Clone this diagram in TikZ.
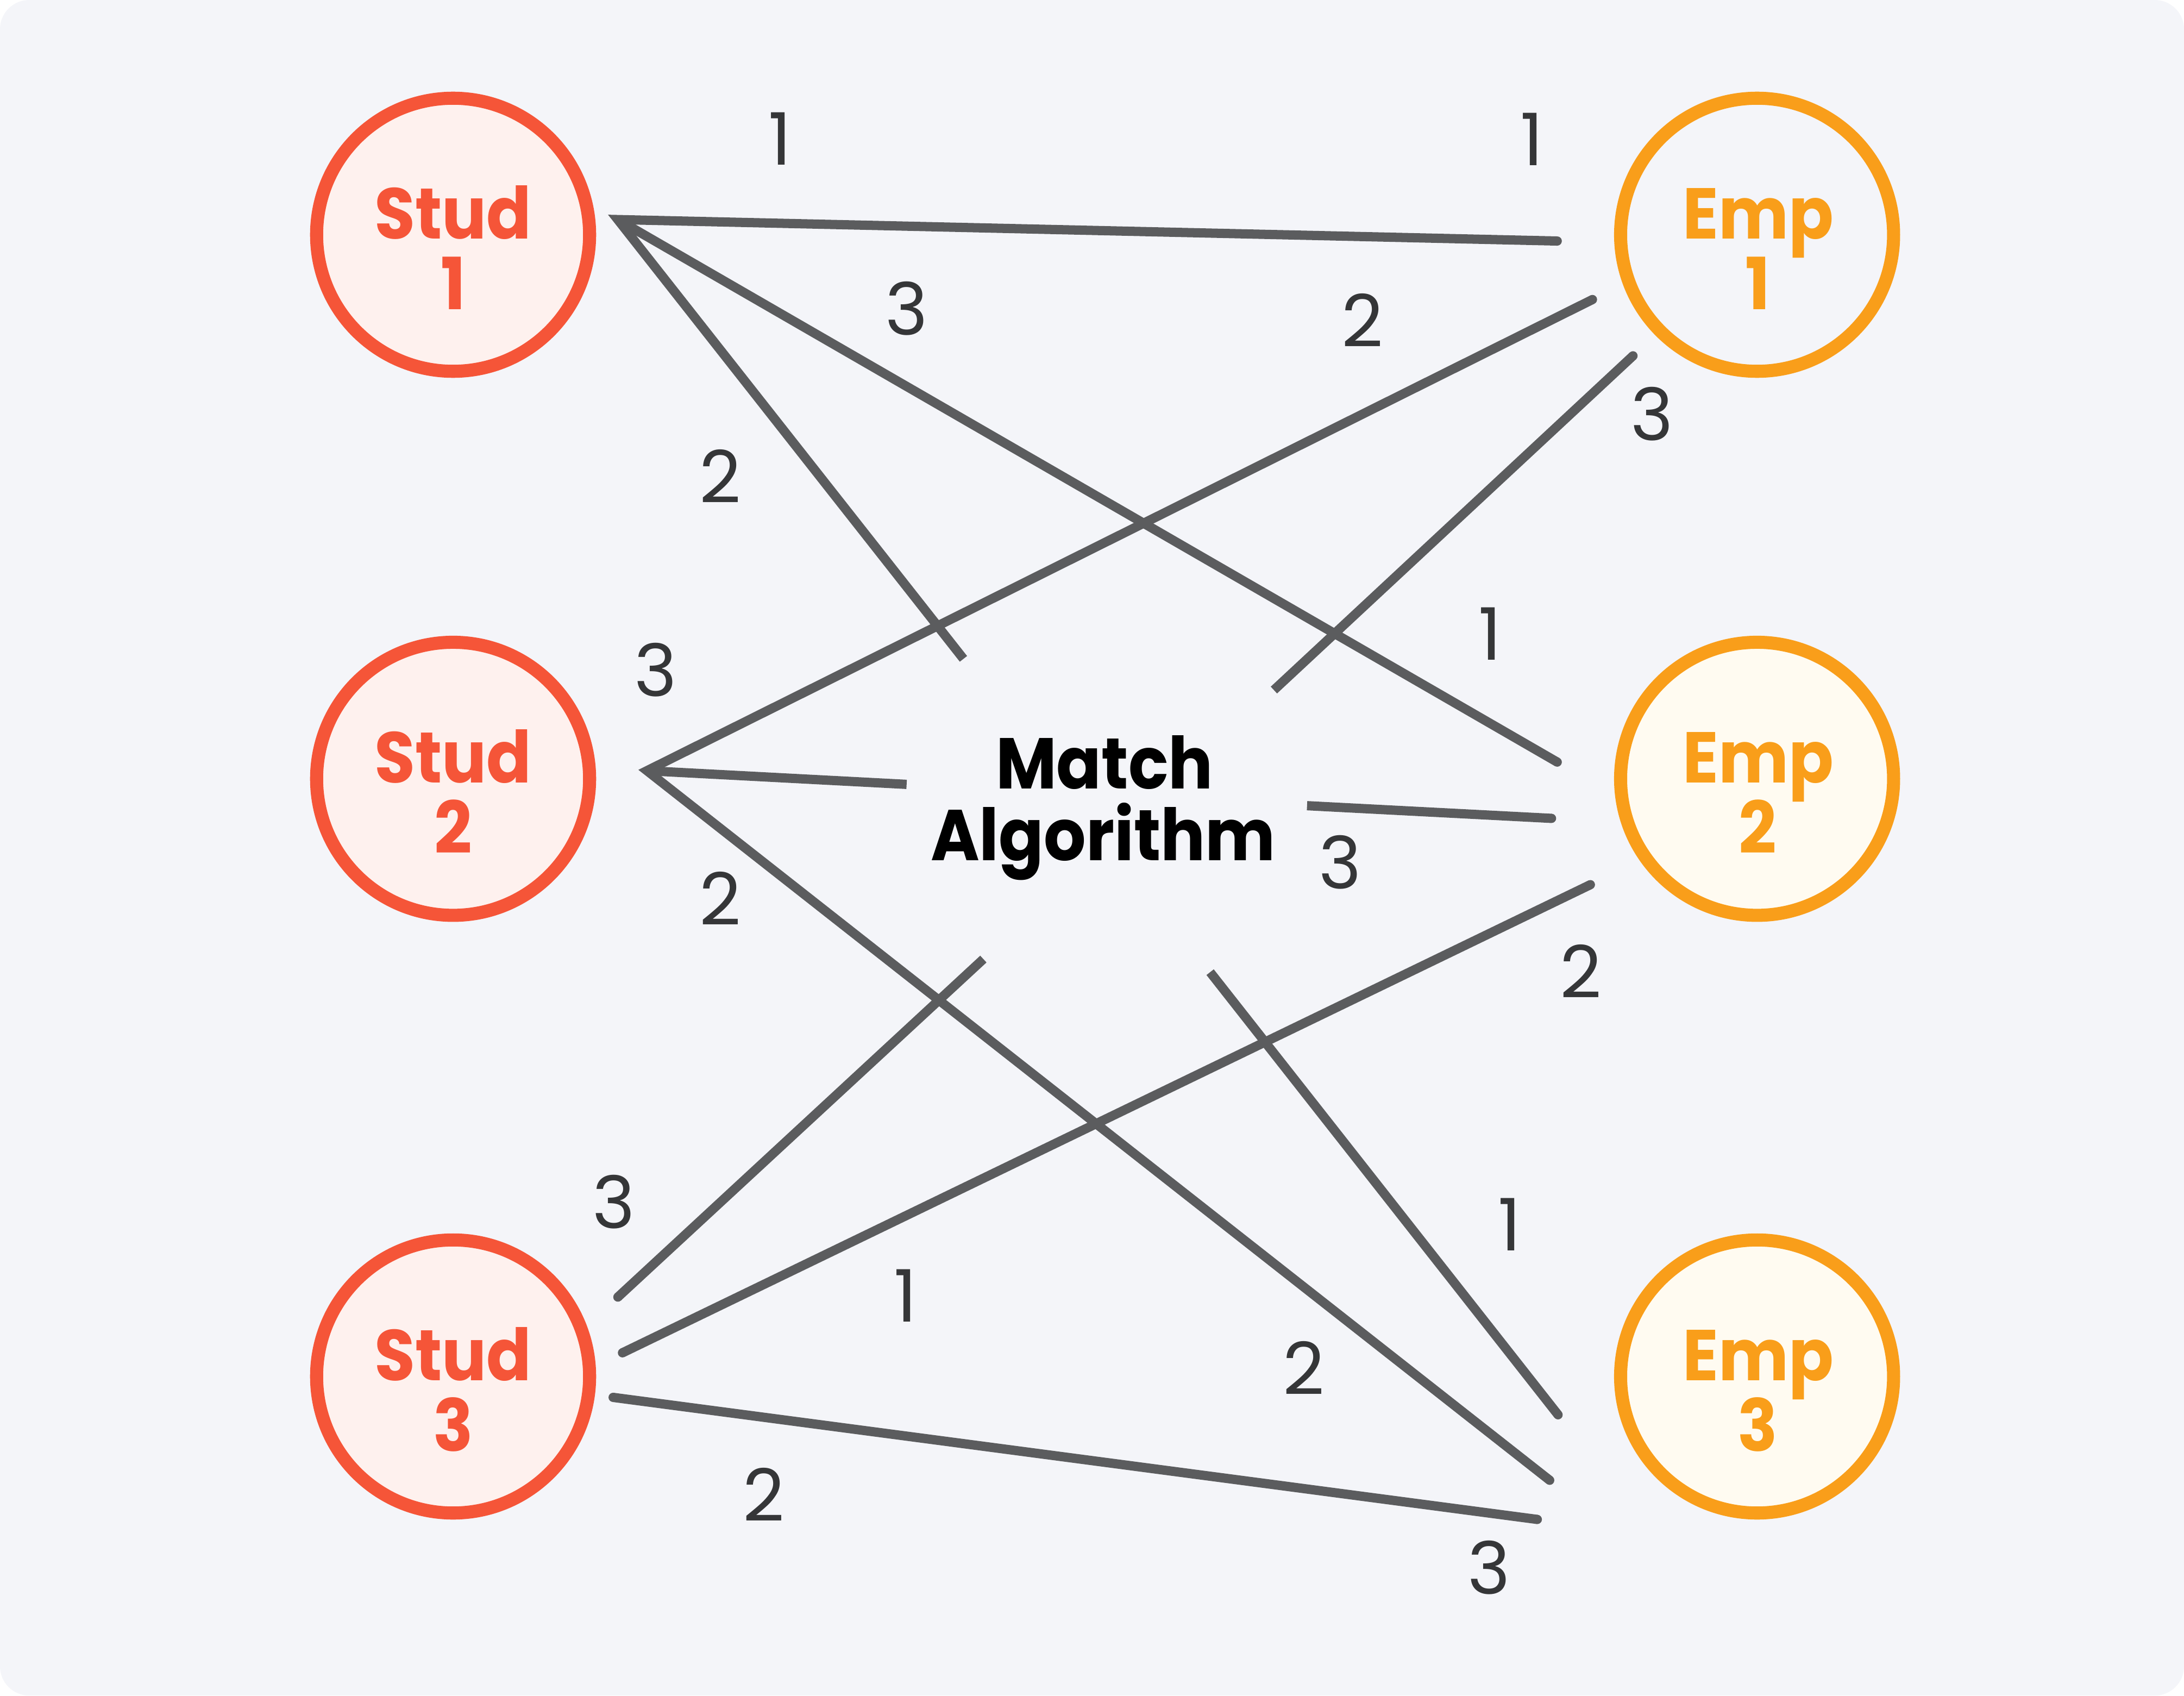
\documentclass[tikz,border=0pt]{standalone}
\usepackage{fontspec}
\setmainfont{Poppins}
\newfontfamily\hfont{Poppins}[FakeStretch=0.92]
\newfontfamily\nfont{Poppins}
\definecolor{bg}{HTML}{F4F5F9}
\definecolor{studred}{HTML}{F55538}
\definecolor{studfill}{HTML}{FEF1EE}
\definecolor{emporange}{HTML}{F99E1A}
\definecolor{empfill}{HTML}{FFFBF1}
\definecolor{linegray}{HTML}{5B5C5E}
\definecolor{numgray}{HTML}{353638}
\tikzset{
  stud/.style={circle, draw=studred, fill=studfill, line width=2.67pt, minimum size=19.6mm, inner sep=0pt},
  emp/.style={circle, draw=emporange, fill=empfill, line width=2.67pt, minimum size=19.6mm, inner sep=0pt},
  boldtxt/.style={anchor=base, inner sep=0pt, font=\hfont\bfseries\fontsize{14.7pt}{14.7pt}\selectfont},
  studtxt/.style={boldtxt, text=studred},
  emptxt/.style={boldtxt, text=emporange},
  algtxt/.style={boldtxt, text=black},
  rank/.style={inner sep=0pt, text=numgray, font=\nfont\fontsize{14.8pt}{14.8pt}\selectfont},
  conn/.style={draw=linegray, line width=1.89pt, line cap=butt, line join=miter},
}
\begin{document}
\begin{tikzpicture}[x=0.1mm,y=-0.1mm]
\useasboundingbox (0,0) rectangle (1568,1217);
\fill[white] (0,0) rectangle (1568,1217);
\fill[bg, rounded corners=2.1mm] (0,0) rectangle (1568,1217);

% nodes
\node[stud] (s1) at (325.3,168.5) {};
\node[stud] (s2) at (325.3,559) {};
\node[stud] (s3) at (325.3,988) {};
\node[emp, fill=bg] (e1) at (1261.5,168.5) {};
\node[emp] (e2) at (1261.5,559) {};
\node[emp] (e3) at (1261.5,988) {};

\node[studtxt] (s1a) at (325.3,171.5) {Stud};
\node[studtxt] (s1b) at (325.3,222.2) {1};
\node[studtxt] (s2a) at (325.3,562) {Stud};
\node[studtxt] (s2b) at (325.3,612.7) {2};
\node[studtxt] (s3a) at (325.3,991) {Stud};
\node[studtxt] (s3b) at (325.3,1041.7) {3};
\node[emptxt] (e1a) at (1262.5,171.5) {Emp};
\node[emptxt] (e1b) at (1262,222.2) {1};
\node[emptxt] (e2a) at (1262.5,562) {Emp};
\node[emptxt] (e2b) at (1262,612.7) {2};
\node[emptxt] (e3a) at (1262.5,991) {Emp};
\node[emptxt] (e3b) at (1262,1041.7) {3};

\node[algtxt] (alg1) at (793,566.3) {Match};
\node[algtxt] (alg2) at (792,617.8) {Algorithm};

% connector coordinates
\coordinate (v1) at (443.5,157.6);
\coordinate (v2) at (464.5,553.2);
\coordinate (a1) at (1118,173);
\coordinate (m1) at (691.7,472.9);
\coordinate (c1) at (1118,547);
\coordinate (d1) at (1143.3,215);
\coordinate (f1) at (650.9,563);
\coordinate (g1) at (1112.6,1062.5);
\coordinate (ea) at (1172.4,255.4);
\coordinate (eb) at (914.6,495.3);
\coordinate (ha) at (938.4,578.3);
\coordinate (hb) at (1113.9,587.4);
\coordinate (ia) at (1141.8,635);
\coordinate (ib) at (446.9,971);
\coordinate (ja) at (706,688.4);
\coordinate (jb) at (443.6,931);
\coordinate (ka) at (868.8,697.8);
\coordinate (kb) at (1118.6,1015.5);
\coordinate (la) at (440.2,1003);
\coordinate (lb) at (1103.7,1090.6);

% connectors
\draw[conn] (a1) -- (v1) -- (m1);
\draw[conn] (v1) -- (c1);
\draw[conn] (d1) -- (v2) -- (g1);
\draw[conn] (v2) -- (f1);
\draw[conn] (ea) -- (eb);
\draw[conn] (ha) -- (hb);
\draw[conn] (ia) -- (ib);
\draw[conn] (ja) -- (jb);
\draw[conn] (ka) -- (kb);
\draw[conn] (la) -- (lb);
\foreach \p in {a1,c1,d1,g1,ea,hb,ia,ib,jb,kb,la,lb}
  \fill[linegray] (\p) circle[radius=0.945pt];

% rank labels
\node[rank] (r1) at (560,99.5) {1};
\node[rank] (r2) at (1100,100) {1};
\node[rank] (r3) at (651,221.4) {3};
\node[rank] (r4) at (978,230) {2};
\node[rank] (r5) at (1186,297) {3};
\node[rank] (r6) at (517,342) {2};
\node[rank] (r7) at (1070,455) {1};
\node[rank] (r8) at (470.8,481) {3};
\node[rank] (r9) at (962,619) {3};
\node[rank] (r10) at (517,645) {2};
\node[rank] (r11) at (1135,697) {2};
\node[rank] (r12) at (440.5,862.5) {3};
\node[rank] (r13) at (1084,879) {1};
\node[rank] (r14) at (650,930) {1};
\node[rank] (r15) at (936,982) {2};
\node[rank] (r16) at (548.5,1072.7) {2};
\node[rank] (r17) at (1069,1125) {3};
\end{tikzpicture}
\end{document}
